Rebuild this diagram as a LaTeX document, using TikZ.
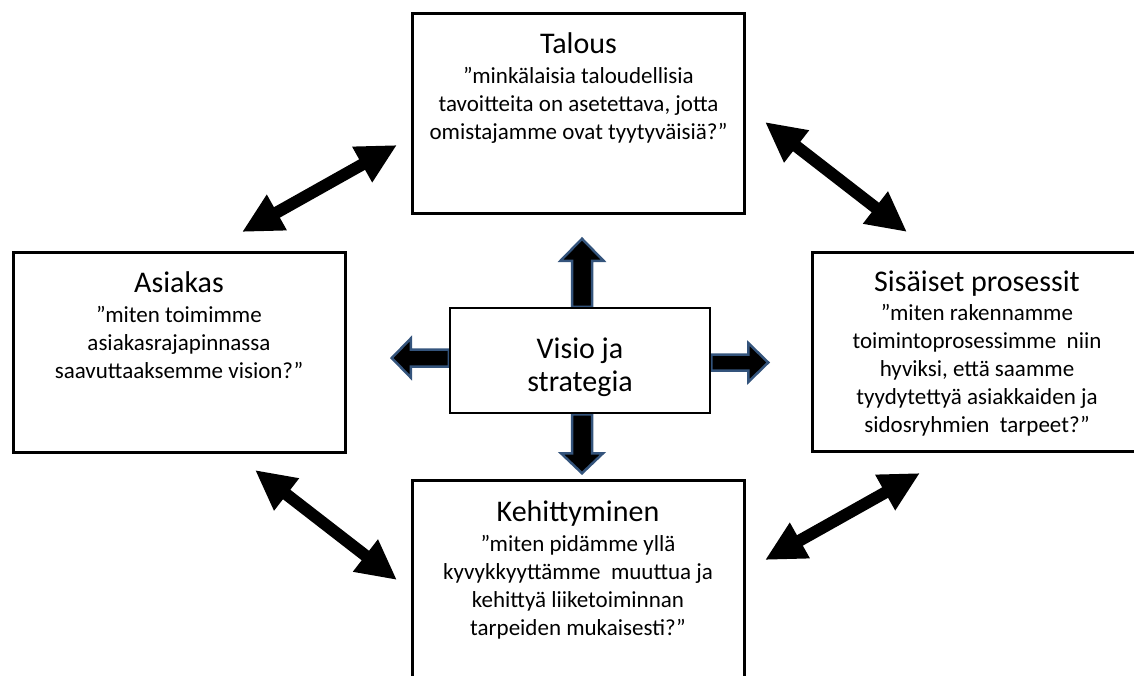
\documentclass[tikz,border=0pt]{standalone}
\usepackage{fontspec}
\setmainfont{Carlito}
\usetikzlibrary{arrows.meta,calc,backgrounds}
\definecolor{arrowedge}{RGB}{52,84,124}

\begin{document}
\begin{tikzpicture}[x=1pt,y=-1pt,
  box/.style={draw=black, line width=3pt, fill=white,
    minimum width=332pt, minimum height=200pt, inner sep=0pt},
  boxtext/.style={anchor=north, align=center, inner sep=0pt,
    font=\fontsize{23}{28}\selectfont},
  blockarrow/.style={draw=arrowedge, line width=2.5pt, fill=black, line join=miter},
  link/.style={line width=12pt, draw=black,
    {Triangle[length=40pt,width=38pt]}-{Triangle[length=40pt,width=38pt]}}
]
\useasboundingbox (0,0) rectangle (1134,675);
\clip (0,0) rectangle (1134,675);

% the four perspective boxes
\node[box] (talous) at (578.5,113) {};
\node[box] (asiakas) at (179,352) {};
\node[box, minimum width=330pt, minimum height=199pt] (prosessit) at (977,351.5) {};
\node[box] (kehitys) at (578,580) {};

% vision and strategy in the middle
\node[draw=black, line width=2.5pt, fill=white, minimum width=260pt,
  minimum height=105pt, inner sep=0pt] (vision) at (580,360.5) {};
\node[align=center, inner sep=0pt, font=\fontsize{30}{33}\selectfont]
  (visiontext) at (580,367) {Visio ja\\strategia};

% texts of the boxes
\node[boxtext] (talousT) at ($(talous.north)+(0,21)$)
  {{\fontsize{30}{30}\selectfont Talous}\\[1.5pt]
   ”minkälaisia taloudellisia\\
   tavoitteita on asetettava, jotta\\
   omistajamme ovat tyytyväisiä?”};
\node[boxtext] (asiakasT) at ($(asiakas.north)+(0,21)$)
  {{\fontsize{30}{30}\selectfont Asiakas}\\[1.5pt]
   ”miten toimimme\\
   asiakasrajapinnassa\\
   saavuttaaksemme vision?”};
\node[boxtext] (prosessitT) at ($(prosessit.north)+(0,20)$)
  {{\fontsize{30}{30}\selectfont Sisäiset prosessit}\\[1.5pt]
   ”miten rakennamme\\
   toimintoprosessimme~ niin\\
   hyviksi, että saamme\\
   tyydytettyä asiakkaiden ja\\
   sidosryhmien~ tarpeet?”};
\node[boxtext] (kehitysT) at ($(kehitys.north)+(0,22)$)
  {{\fontsize{30}{30}\selectfont Kehittyminen}\\[2pt]
   ”miten pidämme yllä\\
   kyvykkyyttämme~ muuttua ja\\
   kehittyä liiketoiminnan\\
   tarpeiden mukaisesti?”};

% block arrows leaving the vision box
\begin{pgfonlayer}{background}
\draw[blockarrow] ($(vision.north)+(-8,0)$) -- ++(0,-46) -- ++(-11.5,0)
  -- ++(21.5,-22) -- ++(21.5,22) -- ++(-11.5,0) -- ++(0,46) -- cycle;
\draw[blockarrow] ($(vision.south)+(-8,0)$) -- ++(0,39) -- ++(-11,0)
  -- ++(21,20) -- ++(21,-20) -- ++(-11,0) -- ++(0,-39) -- cycle;
\draw[blockarrow] ($(vision.west)+(0,-11)$) -- ++(-38,0) -- ++(0,-11)
  -- ++(-19,19.5) -- ++(19,19.5) -- ++(0,-11) -- ++(38,0) -- cycle;
\draw[blockarrow] ($(vision.east)+(0,-6)$) -- ++(37,0) -- ++(0,-11.5)
  -- ++(20,19.5) -- ++(-20,19.5) -- ++(0,-11.5) -- ++(-37,0) -- cycle;
\end{pgfonlayer}

% two-way links between neighbouring perspectives
\coordinate (aTop) at (242,232);
\coordinate (tLeft) at (397,145);
\coordinate (tRight) at (765,122);
\coordinate (pTop) at (907,232);
\coordinate (aBottom) at (255,470);
\coordinate (kLeft) at (397,580);
\coordinate (kRight) at (765,560);
\coordinate (pBottom) at (920,473);
\draw[link] (aTop) -- (tLeft);
\draw[link] (tRight) -- (pTop);
\draw[link] (aBottom) -- (kLeft);
\draw[link] (kRight) -- (pBottom);
\end{tikzpicture}
\end{document}
